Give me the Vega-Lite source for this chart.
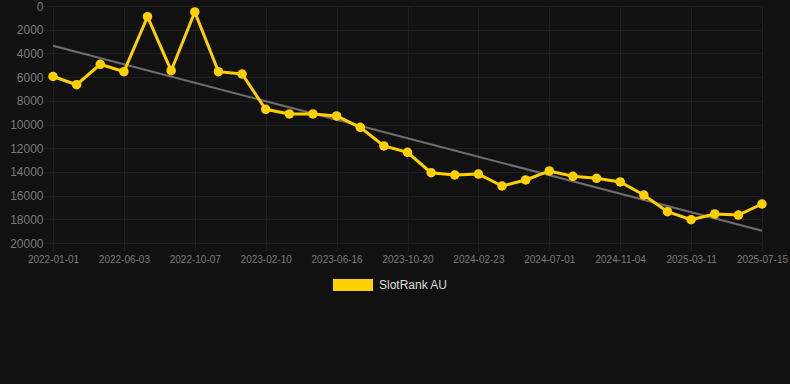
{
  "$schema": "https://vega.github.io/schema/vega-lite/v6.json",
  "width": 709,
  "height": 237,
  "autosize": "none",
  "padding": {"left": 53, "top": 6, "right": 28, "bottom": 141},
  "background": "#111111",
  "config": {
    "view": {"stroke": null},
    "font": "Liberation Sans",
    "axis": {
      "gridColor": "#1e1e1e",
      "gridWidth": 1,
      "tickColor": "#1e1e1e",
      "domain": false,
      "labelColor": "#7a7a7a",
      "labelFont": "Liberation Sans"
    }
  },
  "datasets": {
    "rank": [
      {"date": "2022-01-01", "rank": 5950, "series": "SlotRank AU"},
      {"date": "2022-02-21", "rank": 6640, "series": "SlotRank AU"},
      {"date": "2022-04-13", "rank": 4920, "series": "SlotRank AU"},
      {"date": "2022-06-03", "rank": 5540, "series": "SlotRank AU"},
      {"date": "2022-07-15", "rank": 900, "series": "SlotRank AU"},
      {"date": "2022-08-26", "rank": 5460, "series": "SlotRank AU"},
      {"date": "2022-10-07", "rank": 500, "series": "SlotRank AU"},
      {"date": "2022-11-18", "rank": 5540, "series": "SlotRank AU"},
      {"date": "2022-12-30", "rank": 5740, "series": "SlotRank AU"},
      {"date": "2023-02-10", "rank": 8720, "series": "SlotRank AU"},
      {"date": "2023-03-24", "rank": 9110, "series": "SlotRank AU"},
      {"date": "2023-05-05", "rank": 9110, "series": "SlotRank AU"},
      {"date": "2023-06-16", "rank": 9280, "series": "SlotRank AU"},
      {"date": "2023-07-28", "rank": 10240, "series": "SlotRank AU"},
      {"date": "2023-09-08", "rank": 11810, "series": "SlotRank AU"},
      {"date": "2023-10-20", "rank": 12350, "series": "SlotRank AU"},
      {"date": "2023-12-01", "rank": 14070, "series": "SlotRank AU"},
      {"date": "2024-01-12", "rank": 14260, "series": "SlotRank AU"},
      {"date": "2024-02-23", "rank": 14180, "series": "SlotRank AU"},
      {"date": "2024-04-06", "rank": 15190, "series": "SlotRank AU"},
      {"date": "2024-05-19", "rank": 14680, "series": "SlotRank AU"},
      {"date": "2024-07-01", "rank": 13920, "series": "SlotRank AU"},
      {"date": "2024-08-12", "rank": 14370, "series": "SlotRank AU"},
      {"date": "2024-09-23", "rank": 14540, "series": "SlotRank AU"},
      {"date": "2024-11-04", "rank": 14850, "series": "SlotRank AU"},
      {"date": "2024-12-16", "rank": 15950, "series": "SlotRank AU"},
      {"date": "2025-01-27", "rank": 17360, "series": "SlotRank AU"},
      {"date": "2025-03-11", "rank": 18030, "series": "SlotRank AU"},
      {"date": "2025-04-22", "rank": 17550, "series": "SlotRank AU"},
      {"date": "2025-06-03", "rank": 17640, "series": "SlotRank AU"},
      {"date": "2025-07-15", "rank": 16710, "series": "SlotRank AU"}
    ],
    "trend": [
      {"date": "2022-01-01", "rank": 3350},
      {"date": "2025-07-15", "rank": 18960}
    ]
  },
  "encoding": {
    "x": {
      "field": "date",
      "type": "ordinal",
      "sort": null,
      "scale": {
        "type": "point",
        "padding": 0,
        "domain": ["2022-01-01", "2022-02-21", "2022-04-13", "2022-06-03", "2022-07-15", "2022-08-26", "2022-10-07", "2022-11-18", "2022-12-30", "2023-02-10", "2023-03-24", "2023-05-05", "2023-06-16", "2023-07-28", "2023-09-08", "2023-10-20", "2023-12-01", "2024-01-12", "2024-02-23", "2024-04-06", "2024-05-19", "2024-07-01", "2024-08-12", "2024-09-23", "2024-11-04", "2024-12-16", "2025-01-27", "2025-03-11", "2025-04-22", "2025-06-03", "2025-07-15"]
      },
      "axis": {
        "title": null,
        "labelAngle": 0,
        "labelFontSize": 10,
        "tickSize": 8,
        "labelPadding": 3,
        "grid": true,
        "values": ["2022-01-01", "2022-06-03", "2022-10-07", "2023-02-10", "2023-06-16", "2023-10-20", "2024-02-23", "2024-07-01", "2024-11-04", "2025-03-11", "2025-07-15"]
      }
    },
    "y": {
      "field": "rank",
      "type": "quantitative",
      "scale": {"domain": [0, 20000], "reverse": true, "nice": false},
      "axis": {
        "title": null,
        "values": [0, 2000, 4000, 6000, 8000, 10000, 12000, 14000, 16000, 18000, 20000],
        "format": "d",
        "labelFontSize": 12,
        "tickSize": 10,
        "labelPadding": 0,
        "grid": true
      }
    }
  },
  "layer": [
    {
      "data": {"name": "trend"},
      "mark": {"type": "line", "color": "#6e6e6e", "strokeWidth": 2},
      "encoding": {}
    },
    {
      "data": {"name": "rank"},
      "mark": {"type": "line", "strokeWidth": 3, "point": {"filled": true, "size": 90, "opacity": 1}},
      "encoding": {
        "color": {
          "field": "series",
          "type": "nominal",
          "scale": {"range": ["#FFD000"]},
          "legend": {
            "title": null,
            "orient": "none",
            "legendX": 280,
            "legendY": 259,
            "symbolType": "M-1,-0.3H1V0.3H-1Z",
            "symbolSize": 1600,
            "symbolStrokeWidth": 0,
            "symbolOpacity": 1,
            "labelColor": "#dddddd",
            "labelFontSize": 12,
            "labelFont": "Liberation Sans",
            "labelOffset": 6
          }
        }
      }
    }
  ]
}
